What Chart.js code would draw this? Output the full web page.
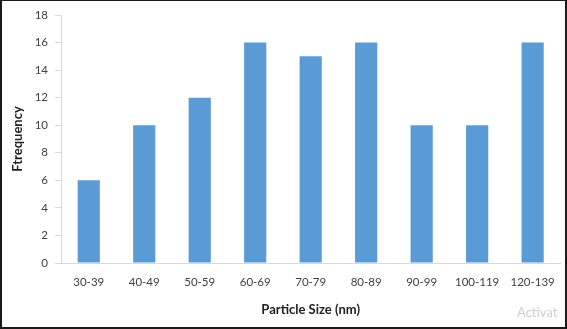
<!DOCTYPE html>
<html>
<head>
<meta charset="utf-8">
<script src="https://cdn.jsdelivr.net/npm/chart.js@4"></script>
<style>
  body { margin: 0; background: #fff; }
  #wrap { position: relative; width: 567px; height: 329px; overflow: hidden; }
  #chart { position: absolute; left: 0; top: 0; }
  #frame { position: absolute; left: 0; top: 0; width: 567px; height: 329px; box-sizing: border-box; border: 2px solid #1a1a1a; border-top-width: 1px; pointer-events: none; }
  #mark { position: absolute; left: 517px; top: 304px; width: 40px; overflow: hidden; font: 13px Lato, sans-serif; color: #cfcfcf; white-space: nowrap; }
</style>
</head>
<body>
<div id="wrap">
  <canvas id="chart" width="567" height="329"></canvas>
  <span id="mark">Activate Windows</span>
  <div id="frame"></div>
</div>
<script>
// Particle size distribution
const sizeBins = ['30-39', '40-49', '50-59', '60-69', '70-79', '80-89', '90-99', '100-119', '120-139'];
const frequency = [6, 10, 12, 16, 15, 16, 10, 10, 16];
const yMin = 0;
const yMax = 18;
const yStep = 2;

const tickColor = '#404040';
const axisColor = '#d9d9d9';

new Chart(document.getElementById('chart'), {
  type: 'bar',
  data: {
    labels: sizeBins,
    datasets: [{
      label: 'Frequency',
      data: frequency,
      backgroundColor: '#5b9bd5',
      barPercentage: 0.4,
      categoryPercentage: 1
    }]
  },
  options: {
    responsive: false,
    animation: false,
    layout: { padding: { top: 15, right: 4, left: 0, bottom: 0 } },
    plugins: {
      legend: { display: false },
      tooltip: { enabled: false }
    },
    scales: {
      x: {
        grid: { display: false, drawTicks: false },
        border: { display: true, color: axisColor },
        ticks: { color: tickColor, font: { family: 'Lato', size: 11.5 }, padding: 12, maxRotation: 0 },
        title: { display: true, text: 'Particle Size (nm)', color: '#222', font: { family: 'Lato', size: 13, weight: 'bold' }, padding: { top: 4, bottom: 11 } },
        afterFit: s => { s.height = 66; }
      },
      y: {
        min: yMin,
        max: yMax,
        grid: { drawOnChartArea: false, tickLength: 6, color: axisColor },
        border: { display: true, color: axisColor },
        ticks: { stepSize: yStep, color: tickColor, font: { family: 'Lato', size: 11.5 }, padding: 7 },
        title: { display: true, text: 'Ftrequency', color: '#222', font: { family: 'Lato', size: 13, weight: 'bold' }, padding: { top: 10, bottom: 0 } },
        afterFit: s => { s.width = 61; }
      }
    }
  }
});
</script>
</body>
</html>
